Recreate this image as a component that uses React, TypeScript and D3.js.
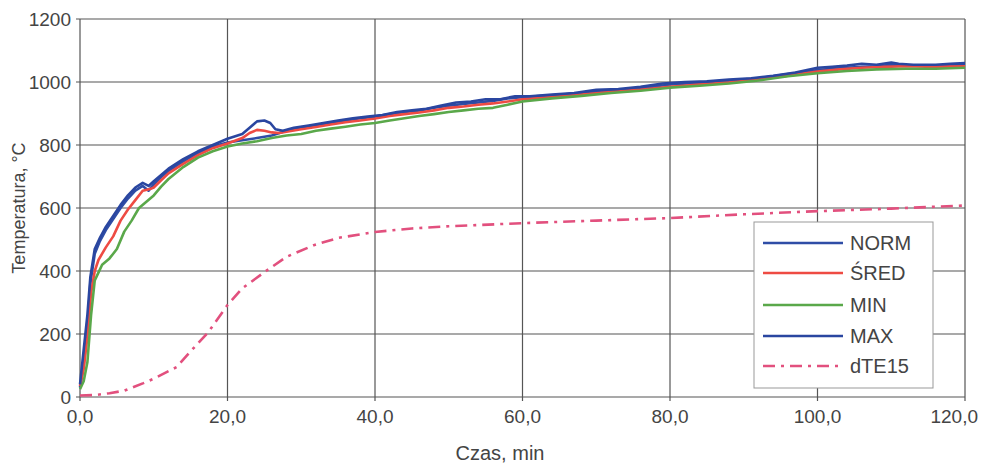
import React, { useEffect, useRef } from 'react';
import * as d3 from 'd3';

// time [min], temperature [°C]
const maxT = [0, 0.5, 1, 1.4, 2, 2.7, 3.5, 4.5, 5.5, 6.5, 7.5, 8.5, 9.3, 10, 11, 12, 14, 16, 18, 20, 22, 23, 24, 25, 25.8, 26.5, 27.5, 29, 31, 33, 35, 37, 39, 41, 43, 45, 47, 49, 51, 53, 55, 57, 59, 61, 64, 67, 70, 73, 76, 79, 82, 85, 88, 91, 94, 97, 100, 102, 104, 106, 108, 110, 111, 113, 116, 118, 120];
const maxV = [40, 150, 260, 380, 470, 505, 540, 575, 610, 640, 665, 680, 670, 685, 705, 725, 755, 780, 800, 820, 835, 855, 875, 878, 870, 850, 845, 855, 862, 870, 878, 885, 890, 895, 905, 910, 915, 925, 935, 938, 945, 945, 955, 955, 960, 965, 975, 978, 985, 995, 1000, 1002, 1008, 1012, 1020, 1030, 1045, 1048, 1052, 1058, 1055, 1062, 1058, 1055, 1055, 1058, 1060];

const normT = [0, 0.5, 1, 1.4, 2, 2.7, 3.5, 4.5, 5.5, 6.5, 7.5, 8.5, 9.3, 10, 11, 12, 14, 16, 18, 20, 22, 24, 26, 28, 30, 32, 34, 36, 38, 40, 42, 44, 46, 48, 50, 52, 54, 56, 58, 60, 64, 68, 72, 76, 80, 84, 88, 92, 96, 100, 102, 104, 106, 108, 110, 113, 116, 120];
const normV = [30, 100, 220, 360, 455, 495, 530, 565, 600, 630, 655, 670, 655, 675, 698, 718, 748, 775, 795, 808, 815, 822, 830, 845, 855, 862, 870, 878, 885, 890, 898, 905, 910, 918, 925, 930, 935, 940, 948, 952, 958, 965, 972, 980, 992, 998, 1005, 1012, 1025, 1038, 1042, 1045, 1048, 1050, 1055, 1052, 1052, 1055];

const sredT = [0, 0.5, 1, 1.5, 2, 2.5, 3.5, 4.5, 5.5, 6.5, 7.5, 8.5, 9.5, 10, 11, 12, 14, 16, 18, 20, 22, 23, 24, 25, 26, 27, 28, 30, 32, 34, 36, 38, 40, 42, 44, 46, 48, 50, 52, 54, 56, 58, 60, 64, 68, 72, 76, 80, 84, 88, 92, 96, 100, 103, 106, 109, 112, 116, 120];
const sredV = [35, 90, 190, 330, 400, 435, 475, 510, 560, 595, 625, 655, 660, 665, 688, 710, 740, 768, 790, 805, 822, 838, 848, 845, 840, 838, 842, 850, 857, 865, 872, 878, 884, 892, 898, 903, 910, 918, 922, 928, 932, 938, 945, 952, 960, 968, 975, 985, 992, 998, 1008, 1020, 1033, 1040, 1045, 1048, 1050, 1048, 1050];

const minT = [0, 0.5, 1, 1.5, 2, 2.5, 3, 4, 4.5, 5, 6, 7, 8, 9, 10, 11, 12, 14, 16, 18, 20, 22, 24, 26, 28, 30, 32, 34, 36, 38, 40, 42, 44, 46, 48, 50, 52, 54, 56, 58, 60, 64, 68, 72, 76, 80, 84, 88, 92, 96, 100, 104, 108, 112, 116, 120];
const minV = [25, 50, 110, 260, 370, 395, 420, 440, 455, 470, 525, 560, 600, 620, 640, 668, 692, 730, 760, 780, 795, 805, 812, 822, 830, 835, 845, 852, 858, 865, 870, 878, 885, 892, 898, 905, 910, 915, 918, 928, 938, 948, 956, 965, 972, 982, 988, 995, 1005, 1018, 1028, 1035, 1040, 1042, 1042, 1045];

const dteT = [0, 2, 4, 6, 8.6, 10, 13.1, 15, 17.4, 20, 22, 25.4, 28, 31.7, 35, 40, 45, 50, 60, 70, 80, 90, 100, 110, 120];
const dteV = [5, 6, 12, 20, 44, 58, 95, 145, 206, 292, 345, 403, 445, 482, 505, 524, 535, 542, 552, 560, 568, 580, 590, 598, 608];

const xTicks = [0, 20, 40, 60, 80, 100, 120];
const yTicks = [0, 200, 400, 600, 800, 1000, 1200];

const series = [
  { name: 'NORM', t: normT, v: normV, color: '#2f4da6', dash: '' },
  { name: 'ŚRED', t: sredT, v: sredV, color: '#ee4b43', dash: '' },
  { name: 'MIN', t: minT, v: minV, color: '#5aa84a', dash: '' },
  { name: 'MAX', t: maxT, v: maxV, color: '#2a46a0', dash: '' },
  { name: 'dTE15', t: dteT, v: dteV, color: '#e2507e', dash: '12,6,3,6' },
];

const App = () => {
  const svgRef = useRef<SVGSVGElement>(null);

  useEffect(() => {
    const width = 981;
    const height = 464;
    const m = { left: 80, right: 965, top: 19, bottom: 397 };

    const svg = d3.select(svgRef.current).attr('width', width).attr('height', height);
    svg.selectAll('*').remove();

    const x = d3.scaleLinear().domain([0, 120]).range([m.left, m.right]);
    const y = d3.scaleLinear().domain([0, 1200]).range([m.bottom, m.top]);

    const font = '"Liberation Sans", Arial, sans-serif';

    // grid
    const grid = svg.append('g').attr('stroke', '#555').attr('stroke-width', 1.2);
    yTicks.forEach(v => {
      grid.append('line').attr('x1', m.left - 4).attr('x2', m.right).attr('y1', y(v)).attr('y2', y(v));
    });
    xTicks.forEach(v => {
      grid.append('line').attr('x1', x(v)).attr('x2', x(v)).attr('y1', m.top).attr('y2', m.bottom + 4);
    });

    // tick labels
    svg.append('g').selectAll('text').data(yTicks).enter().append('text')
      .attr('x', 71).attr('y', d => y(d) + 7)
      .attr('text-anchor', 'end').attr('font-family', font).attr('font-size', 19).attr('fill', '#444')
      .text(d => d);
    svg.append('g').selectAll('text').data(xTicks).enter().append('text')
      .attr('x', d => (d === 120 ? 978 : x(d))).attr('y', 423)
      .attr('text-anchor', d => (d === 120 ? 'end' : 'middle'))
      .attr('font-family', font).attr('font-size', 19).attr('fill', '#444')
      .text(d => d.toFixed(1).replace('.', ','));

    // axis titles
    svg.append('text').attr('x', 500).attr('y', 460).attr('text-anchor', 'middle')
      .attr('font-family', font).attr('font-size', 20).attr('fill', '#444').text('Czas, min');
    svg.append('text').attr('transform', 'translate(25,208) rotate(-90)').attr('text-anchor', 'middle')
      .attr('font-family', font).attr('font-size', 18).attr('fill', '#444').text('Temperatura, °C');

    // lines
    const line = d3.line<[number, number]>().x(d => x(d[0])).y(d => y(d[1]));
    series.forEach(s => {
      const pts: [number, number][] = s.t.map((t, i) => [t, s.v[i]]);
      svg.append('path').attr('d', line(pts)).attr('fill', 'none')
        .attr('stroke', s.color).attr('stroke-width', 2.6)
        .attr('stroke-dasharray', s.dash || null)
        .attr('stroke-linejoin', 'round');
    });

    // legend
    const lg = svg.append('g');
    lg.append('rect').attr('x', 754).attr('y', 222).attr('width', 179).attr('height', 166)
      .attr('fill', 'white').attr('stroke', '#999').attr('stroke-width', 1);
    const rows = [243, 273, 305, 336, 366];
    series.forEach((s, i) => {
      lg.append('line').attr('x1', 763).attr('x2', 843).attr('y1', rows[i]).attr('y2', rows[i])
        .attr('stroke', s.color).attr('stroke-width', 2.6).attr('stroke-dasharray', s.dash || null);
      lg.append('text').attr('x', 850).attr('y', rows[i] + 7).attr('font-family', font)
        .attr('font-size', 20).attr('fill', '#444').text(s.name);
    });
  }, []);

  return (
    <svg ref={svgRef} style={{ position: 'absolute', left: 0, top: 0, background: 'white' }}></svg>
  );
};

export default App;
